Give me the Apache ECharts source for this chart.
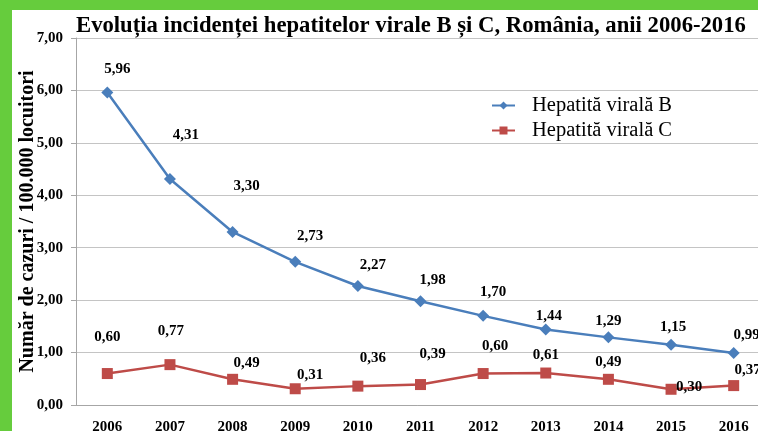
<!DOCTYPE html>
<html>
<head>
<meta charset="utf-8">
<script src="https://cdn.jsdelivr.net/npm/echarts@6/dist/echarts.min.js"></script>
<style>
html,body{margin:0;padding:0;width:758px;height:431px;background:#66cc3d;overflow:hidden;}
#frame{position:absolute;left:12px;top:10px;width:746px;height:421px;background:#fff;}
#chart{width:746px;height:421px;}
</style>
</head>
<body>
<div id="frame"><div id="chart"></div></div>
<script>
const years = ['2006','2007','2008','2009','2010','2011','2012','2013','2014','2015','2016'];
const hepB = [5.96, 4.31, 3.30, 2.73, 2.27, 1.98, 1.70, 1.44, 1.29, 1.15, 0.99];
const hepC = [0.60, 0.77, 0.49, 0.31, 0.36, 0.39, 0.60, 0.61, 0.49, 0.30, 0.37];
const seriesNames = ['Hepatită virală B', 'Hepatită virală C'];
const titleText = 'Evoluția incidenței hepatitelor virale B și C, România, anii 2006-2016';
const yAxisTitle = 'Număr de cazuri / 100.000 locuitori';

// label placement (styling, not data)
const offB = [[10,-23],[16,-44],[14,-46],[15,-26],[15,-21],[12,-21],[10,-24],[3,-13],[0,-16],[2,-18],[13,-18]];
const offC = [[0,-36],[1,-34],[14,-16],[15,-14],[15,-28],[12,-30],[12,-27],[0,-18],[0,-17],[18,-2],[14,-15]];

const fmt = v => v.toFixed(2).replace('.', ',');
const serif = '"Liberation Serif", "Times New Roman", serif';

function mk(vals, offs) {
  return vals.map((v, i) => ({ value: v, label: { offset: offs[i] } }));
}

const labelStyle = {
  show: true, position: 'inside',
  formatter: p => fmt(p.value),
  fontFamily: serif, fontWeight: 'bold', fontSize: 15, color: '#000'
};

const chart = echarts.init(document.getElementById('chart'));
chart.setOption({
  animation: false,
  title: {
    text: titleText, left: 59, top: 0,
    textStyle: { fontFamily: serif, fontWeight: 'bold', fontSize: 22.7, color: '#000' }
  },
  legend: {
    orient: 'vertical', left: 474, top: 80, itemGap: 4, itemWidth: 23, itemHeight: 10,
    data: seriesNames,
    textStyle: { fontFamily: serif, fontSize: 20.5, color: '#000', padding: [0,0,0,12] }
  },
  grid: { left: 64, top: 28, bottom: 26, right: -7, outerBoundsMode: 'none', containLabel: false },
  xAxis: {
    type: 'category', data: years, boundaryGap: true,
    axisLine: { lineStyle: { color: '#a6a6a6' } },
    axisTick: { show: false },
    axisLabel: { interval: 0, margin: 15, fontFamily: serif, fontWeight: 'bold', fontSize: 15, color: '#000' }
  },
  yAxis: {
    type: 'value', min: 0, max: 7, interval: 1,
    name: yAxisTitle, nameLocation: 'middle', nameRotate: 90, nameGap: 38, nameMoveOverlap: false,
    nameTextStyle: { fontFamily: serif, fontWeight: 'bold', fontSize: 20, color: '#000' },
    axisLine: { show: true, lineStyle: { color: '#a6a6a6' } },
    axisTick: { show: true, length: 5, lineStyle: { color: '#a6a6a6' } },
    axisLabel: { formatter: fmt, margin: 13, fontFamily: serif, fontWeight: 'bold', fontSize: 15, color: '#000' },
    splitLine: { lineStyle: { color: '#c4c4c4', width: 1.2 } }
  },
  series: [
    {
      name: seriesNames[0], type: 'line', data: mk(hepB, offB),
      symbol: 'diamond', symbolSize: 12,
      lineStyle: { color: '#4a7ebb', width: 2.5 },
      itemStyle: { color: '#4a7ebb' },
      label: labelStyle
    },
    {
      name: seriesNames[1], type: 'line', data: mk(hepC, offC),
      symbol: 'rect', symbolSize: 11,
      lineStyle: { color: '#be4b48', width: 2.5 },
      itemStyle: { color: '#be4b48' },
      label: labelStyle
    }
  ]
});
</script>
</body>
</html>
